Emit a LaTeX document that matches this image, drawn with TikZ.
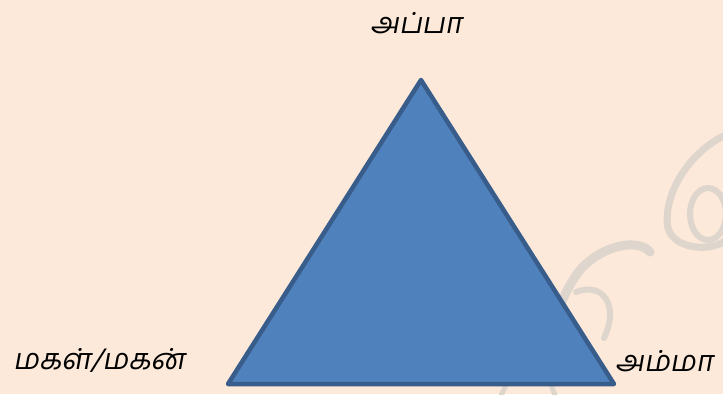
\documentclass[tikz,border=0pt]{standalone}
\usepackage{fontspec}
\usepackage{tikz}
\usetikzlibrary{positioning}
\newfontfamily\tamilfont[Script=Tamil,FakeSlant=0.18]{Hind Madurai}
\definecolor{PageBg}{HTML}{FCE9DA}
\definecolor{TriFill}{HTML}{4F81BD}
\definecolor{TriEdge}{HTML}{385D8A}
\definecolor{Swirl}{HTML}{DED5CC}

\begin{document}
\begin{tikzpicture}[
  x=1pt,y=-1pt,
  tri/.style={fill=TriFill,draw=TriEdge,line width=4.5pt,line join=round},
  swirl/.style={draw=Swirl,line width=7pt,line cap=round},
  role/.style={font=\fontsize{29}{34}\selectfont\tamilfont,text=black,inner sep=0pt}
]

% page
\fill[PageBg] (0,0) rectangle (723,394);
\useasboundingbox (0,0) rectangle (723,394);

% faint watermark behind the triangle
\draw[swirl] (728,134) .. controls (690,150) and (662,195) .. (668,228)
  .. controls (674,250) and (712,252) .. (726,240);
\draw[swirl,line width=6pt] (708,214) ellipse [x radius=18,y radius=26];
\draw[swirl,line width=9pt] (650,252) .. controls (638,238) and (602,245) .. (580,270)
  .. controls (564,290) and (554,320) .. (546,350);
\draw[swirl,line width=6pt] (576,292) .. controls (602,282) and (620,304) .. (604,338);
\draw[swirl,line width=5pt] (500,398) -- (512,372);
\draw[swirl,line width=5pt] (556,398) -- (546,372);

% triangle
\coordinate (apex) at (421,80);
\coordinate (left) at (228,384);
\coordinate (right) at (614,384);
\draw[tri] (apex) -- (right) -- (left) -- cycle;

% labels
\node[role,anchor=base] (dad) at (416,33) {அப்பா};
\node[role,anchor=base west] (child) at (13,369) {மகள்/மகன்};
\node[role,anchor=base west] (mom) at (615,371) {அம்மா};
\end{tikzpicture}
\end{document}
